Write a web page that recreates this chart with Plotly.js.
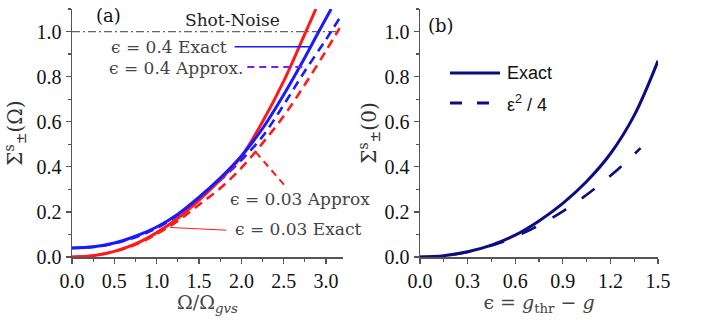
<!DOCTYPE html>
<html>
<head>
<meta charset="utf-8">
<script src="https://cdn.plot.ly/plotly-3.0.1.min.js"></script>
<style>html,body{margin:0;padding:0;background:#fff;}#chart{width:702px;height:320px;}</style>
</head>
<body>
<div id="chart"></div>
<script>
// ---- Panel (a) data: Sigma(Omega) vs Omega/Omega_gvs ----
const xRed03Exact = [0, 0.25, 0.5, 0.75, 1.0, 1.25, 1.5, 1.75, 2.0, 2.25, 2.5, 2.75, 2.88];
const yRed03Exact = [0, 0.006, 0.025, 0.058, 0.108, 0.172, 0.252, 0.343, 0.445, 0.60, 0.78, 0.99, 1.10];

const xRed03Approx = [0, 0.25, 0.5, 0.75, 1.0, 1.25, 1.5, 1.75, 2.0, 2.25, 2.5, 2.75, 3.0, 3.16];
const yRed03Approx = [0, 0.006, 0.024, 0.055, 0.102, 0.16, 0.232, 0.305, 0.395, 0.505, 0.625, 0.765, 0.915, 1.015];

const xBlue04Exact = [0, 0.25, 0.5, 0.75, 1.0, 1.25, 1.5, 1.75, 2.0, 2.25, 2.5, 2.75, 2.9, 3.06];
const yBlue04Exact = [0.04, 0.045, 0.062, 0.092, 0.133, 0.19, 0.265, 0.35, 0.448, 0.57, 0.72, 0.885, 0.99, 1.10];

const xBlue04Approx = [0, 0.25, 0.5, 0.75, 1.0, 1.25, 1.5, 1.75, 2.0, 2.25, 2.5, 2.75, 3.0, 3.16];
const yBlue04Approx = [0.04, 0.044, 0.06, 0.088, 0.128, 0.185, 0.258, 0.34, 0.43, 0.535, 0.675, 0.825, 0.965, 1.06];

const xShotNoise = [0, 3.12];
const yShotNoise = [1.0, 1.0];

// ---- Panel (b) data: Sigma(0) vs epsilon ----
const xEpsExact = [0, 0.15, 0.3, 0.45, 0.6, 0.75, 0.9, 1.05, 1.2, 1.35, 1.5];
const yEpsExact = [0, 0.006, 0.023, 0.053, 0.097, 0.16, 0.238, 0.335, 0.458, 0.628, 0.87];

const xEpsApprox = [0, 0.1, 0.2, 0.3, 0.4, 0.5, 0.6, 0.7, 0.8, 0.9, 1.0, 1.1, 1.2, 1.3, 1.39];
const yEpsApprox = [0, 0.0025, 0.01, 0.0225, 0.04, 0.0625, 0.09, 0.1225, 0.16, 0.2025, 0.25, 0.3025, 0.36, 0.4225, 0.483];

const xTicksA = [0, 0.5, 1.0, 1.5, 2.0, 2.5, 3.0];
const xTicksB = [0, 0.3, 0.6, 0.9, 1.2, 1.5];
const yTicks = [0, 0.2, 0.4, 0.6, 0.8, 1.0];

const RED = '#ff1a1a', BLUE = '#1a1aff', NAVY = '#0c0c84';
const serif = 'DejaVu Serif';

const traces = [
  {x: xShotNoise, y: yShotNoise, xaxis: 'x', yaxis: 'y', mode: 'lines', showlegend: false,
   line: {color: '#666', width: 1.2, dash: '8px,3px,2px,3px'}},
  {x: xRed03Approx, y: yRed03Approx, xaxis: 'x', yaxis: 'y', mode: 'lines', showlegend: false,
   line: {color: RED, width: 2.6, dash: '9px,6px', shape: 'spline'}},
  {x: xBlue04Approx, y: yBlue04Approx, xaxis: 'x', yaxis: 'y', mode: 'lines', showlegend: false,
   line: {color: BLUE, width: 2.6, dash: '9px,6px', shape: 'spline'}},
  {x: xRed03Exact, y: yRed03Exact, xaxis: 'x', yaxis: 'y', mode: 'lines', showlegend: false,
   line: {color: RED, width: 3, shape: 'spline'}},
  {x: xBlue04Exact, y: yBlue04Exact, xaxis: 'x', yaxis: 'y', mode: 'lines', showlegend: false,
   line: {color: BLUE, width: 3, shape: 'spline'}},
  {x: xEpsApprox, y: yEpsApprox, xaxis: 'x2', yaxis: 'y2', mode: 'lines', showlegend: false,
   line: {color: NAVY, width: 2.6, dash: '16px,19px', shape: 'spline'}},
  {x: xEpsExact, y: yEpsExact, xaxis: 'x2', yaxis: 'y2', mode: 'lines', showlegend: false,
   line: {color: NAVY, width: 3, shape: 'spline'}}
];

function axisCommon() {
  return {showgrid: false, zeroline: false, showline: true, linecolor: '#555', linewidth: 1.5,
    ticks: 'outside', ticklen: 5, tickwidth: 1.2, tickcolor: '#555',
    tickfont: {family: 'Liberation Serif', size: 20, color: '#111'},
    tickformat: '.1f', mirror: false};
}

const xa = Object.assign(axisCommon(), {domain: [72/702, 343/702], range: [0, 3.2], tickvals: xTicksA,
  minor: {dtick: 0.25, ticks: 'outside', ticklen: 3, tickcolor: '#555'}, anchor: 'y',
  title: {text: 'Ω/Ω<sub><i>gvs</i></sub>', font: {family: serif, size: 19, color: '#444'}, standoff: 4}});
const ya = Object.assign(axisCommon(), {domain: [0, 1], range: [0, 1.1], tickvals: yTicks,
  minor: {dtick: 0.1, ticks: 'outside', ticklen: 3, tickcolor: '#555'}, anchor: 'x',
  title: {text: 'Σ<sup>s</sup><sub>±</sub>(Ω)', font: {family: serif, size: 20, color: '#333'}, standoff: 8}});
const xb = Object.assign(axisCommon(), {domain: [420/702, 658/702], range: [0, 1.5], tickvals: xTicksB,
  minor: {dtick: 0.15, ticks: 'outside', ticklen: 3, tickcolor: '#555'}, anchor: 'y2',
  title: {text: 'ϵ = <i>g</i><sub>thr</sub> − <i>g</i>', font: {family: serif, size: 19, color: '#444'}, standoff: 4}});
const yb = Object.assign(axisCommon(), {domain: [0, 1], range: [0, 1.1], tickvals: yTicks,
  minor: {dtick: 0.1, ticks: 'outside', ticklen: 3, tickcolor: '#555'}, anchor: 'x2',
  title: {text: 'Σ<sup>s</sup><sub>±</sub>(0)', font: {family: serif, size: 20, color: '#333'}, standoff: 2}});

const annFont = {family: serif, size: 17, color: '#444'};
const annotations = [
  {xref: 'x', yref: 'y', x: 0.43, y: 1.07, text: '(a)', showarrow: false, font: {family: serif, size: 18, color: '#111'}},
  {xref: 'x', yref: 'y', x: 1.90, y: 1.052, text: 'Shot-Noise', showarrow: false, font: {family: serif, size: 17, color: '#222'}},
  {xref: 'x', yref: 'y', x: 1.85, y: 0.932, xanchor: 'right', text: 'ϵ = 0.4 Exact', showarrow: false, font: annFont},
  {xref: 'x', yref: 'y', x: 2.04, y: 0.839, xanchor: 'right', text: 'ϵ = 0.4 Approx.', showarrow: false, font: annFont},
  {xref: 'x', yref: 'y', x: 1.84, y: 0.256, xanchor: 'left', text: 'ϵ = 0.03 Approx', showarrow: false, font: annFont},
  {xref: 'x', yref: 'y', x: 1.90, y: 0.123, xanchor: 'left', text: 'ϵ = 0.03 Exact', showarrow: false, font: annFont},
  {xref: 'x2', yref: 'y2', x: 0.13, y: 1.025, text: '(b)', showarrow: false, font: {family: serif, size: 18, color: '#111'}},
  {xref: 'x2', yref: 'y2', x: 0.535, y: 0.816, xanchor: 'left', text: 'Exact', showarrow: false, font: {family: 'Liberation Sans', size: 18, color: '#111'}},
  {xref: 'x2', yref: 'y2', x: 0.535, y: 0.683, xanchor: 'left', text: 'ε<sup>2</sup> / 4', showarrow: false, font: {family: 'Liberation Sans', size: 18, color: '#111'}}
];

const shapes = [
  {type: 'line', xref: 'x', yref: 'y', x0: 1.92, y0: 0.933, x1: 2.83, y1: 0.933, line: {color: BLUE, width: 1.5}},
  {type: 'line', xref: 'x', yref: 'y', x0: 2.07, y0: 0.843, x1: 2.75, y1: 0.843, line: {color: '#7a1aff', width: 2, dash: '7px,5px'}},
  {type: 'line', xref: 'x', yref: 'y', x0: 2.17, y0: 0.465, x1: 2.54, y1: 0.305, line: {color: RED, width: 2, dash: '7px,5px'}},
  {type: 'line', xref: 'x', yref: 'y', x0: 1.156, y0: 0.131, x1: 1.824, y1: 0.119, line: {color: RED, width: 1}},
  {type: 'line', xref: 'x2', yref: 'y2', x0: 0.189, y0: 0.816, x1: 0.504, y1: 0.816, line: {color: NAVY, width: 3}},
  {type: 'line', xref: 'x2', yref: 'y2', x0: 0.189, y0: 0.683, x1: 0.504, y1: 0.683, line: {color: NAVY, width: 3, dash: '12px,15px'}}
];

const layout = {
  width: 702, height: 320,
  margin: {l: 0, r: 0, t: 9, b: 63},
  paper_bgcolor: '#fff', plot_bgcolor: '#fff',
  font: {family: 'Liberation Serif', size: 19, color: '#111'},
  showlegend: false,
  xaxis: xa, yaxis: ya, xaxis2: xb, yaxis2: yb,
  annotations: annotations, shapes: shapes
};

Plotly.newPlot('chart', traces, layout, {displayModeBar: false, staticPlot: true});
</script>
</body>
</html>
